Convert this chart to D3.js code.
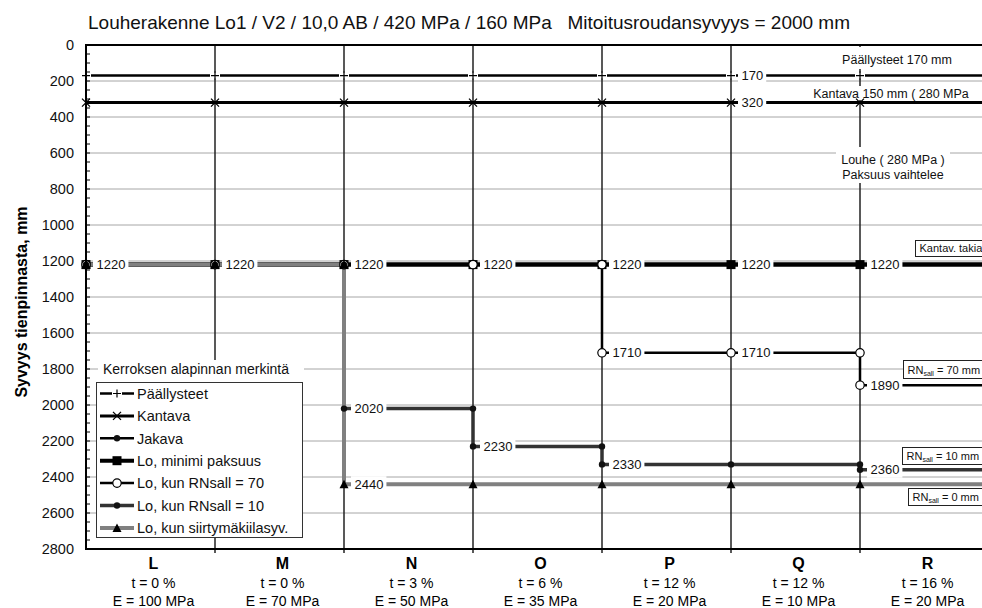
<!DOCTYPE html>
<html>
<head>
<meta charset="utf-8">
<script src="https://cdn.jsdelivr.net/npm/d3@7"></script>
<style>
  body { margin: 0; background: #fff; }
  svg { display: block; font-family: Arial, "Liberation Sans", sans-serif; }
</style>
</head>
<body>
<svg id="chart" width="982" height="608"></svg>
<script>
// categories (ground types) and their texts
var categories = ["L", "M", "N", "O", "P", "Q", "R"];
var tLabels = ["t = 0 %", "t = 0 %", "t = 3 %", "t = 6 %", "t = 12 %", "t = 12 %", "t = 16 %"];
var eLabels = ["E = 100 MPa", "E = 70 MPa", "E = 50 MPa", "E = 35 MPa", "E = 20 MPa", "E = 10 MPa", "E = 20 MPa"];
var yTicks = d3.range(0, 2801, 200);

// depth of the layer bottom, mm, per category
var paallysteet = [170, 170, 170, 170, 170, 170, 170];
var kantava = [320, 320, 320, 320, 320, 320, 320];
var jakava = [];  // no separate jakava layer in this structure
var loMin = [1220, 1220, 1220, 1220, 1220, 1220, 1220];
var loRN70 = [1220, 1220, 1220, 1220, 1710, 1710, 1890];
var loRN10 = [1220, 1220, 2020, 2230, 2330, 2330, 2360];
var loSiirtyma = [1220, 1220, 2440, 2440, 2440, 2440, 2440];

// categories that get a value label
var labelsPaal = [5];
var labelsKant = [5];
var labelsMin = [0, 1, 2, 3, 4, 5, 6];
var labelsRN70 = [4, 5, 6];
var labelsRN10 = [2, 3, 4, 6];
var labelsSiirt = [2];

var series = [
  {name: "Päällysteet", values: paallysteet, color: "#000", width: 2.5, marker: "plus", labels: labelsPaal},
  {name: "Kantava", values: kantava, color: "#000", width: 3, marker: "cross", labels: labelsKant},
  {name: "Jakava", values: jakava, color: "#000", width: 2.5, marker: "dot", labels: []},
  {name: "Lo, minimi paksuus", values: loMin, color: "#000", width: 4.5, marker: "square", labels: labelsMin},
  {name: "Lo, kun RNsall = 70", values: loRN70, color: "#000", width: 2.5, marker: "circle", labels: labelsRN70},
  {name: "Lo, kun RNsall = 10", values: loRN10, color: "#333", width: 3.5, marker: "dot", labels: labelsRN10},
  {name: "Lo, kun siirtymäkiilasyv.", values: loSiirtyma, color: "#808080", width: 4, marker: "triangle", labels: labelsSiirt}
];

var svg = d3.select("#chart");
var x = d3.scaleLinear().domain([0, 7]).range([86, 989]);
var y = d3.scaleLinear().domain([0, 2800]).range([45, 549]);

// grid
svg.append("g").selectAll("line").data(yTicks.filter(function(d){ return d > 0 && d < 2800; }))
  .enter().append("line")
  .attr("x1", x(0)).attr("x2", 982)
  .attr("y1", function(d){ return y(d); }).attr("y2", function(d){ return y(d); })
  .attr("stroke", "#a6a6a6").attr("stroke-width", 1);

// category boundary lines
svg.append("g").selectAll("line").data(d3.range(1, 7))
  .enter().append("line")
  .attr("x1", function(d){ return x(d); }).attr("x2", function(d){ return x(d); })
  .attr("y1", y(0)).attr("y2", y(2800) + 4)
  .attr("stroke", "#222").attr("stroke-width", 1.5);

// notes on the right with white background
function note(lines, cx, y0, size, box) {
  var g = svg.append("g");
  g.append("rect").attr("x", box[0]).attr("y", box[1]).attr("width", box[2]).attr("height", box[3]).attr("fill", "#fff");
  lines.forEach(function(t, i){
    g.append("text").attr("x", cx).attr("y", y0 + i * 14.5).attr("text-anchor", "middle")
      .attr("font-size", size).attr("fill", "#111").text(t);
  });
}
note(["Päällysteet 170 mm"], 897, 64, 12.5, [838, 47, 118, 22]);
note(["Kantava 150 mm ( 280 MPa"], 891, 98, 12.5, [810, 86, 165, 14]);
note(["Louhe ( 280 MPa )", "Paksuus vaihtelee"], 893, 164, 12.5, [836, 147, 114, 36]);

// series lines (step shape)
function stepPoints(v) {
  var pts = [[0, v[0]]];
  for (var i = 1; i < v.length; i++) {
    pts.push([i, v[i - 1]]);
    pts.push([i, v[i]]);
  }
  pts.push([v.length, v[v.length - 1]]);
  return pts;
}
function markerPoints(v) {
  var pts = [];
  for (var i = 0; i < v.length; i++) {
    if (i > 0 && v[i - 1] !== v[i]) pts.push([i, v[i - 1]]);
    pts.push([i, v[i]]);
  }
  return pts;
}
var line = d3.line().x(function(d){ return x(d[0]); }).y(function(d){ return y(d[1]); });

function drawMarker(g, type, px, py) {
  if (type === "plus") {
    g.append("rect").attr("x", px - 5).attr("y", py - 3).attr("width", 10).attr("height", 6).attr("fill", "#fff");
    g.append("path").attr("d", "M" + (px - 4) + "," + py + "H" + (px + 4) + "M" + px + "," + (py - 4) + "V" + (py + 4))
      .attr("stroke", "#000").attr("stroke-width", 1.2);
  } else if (type === "cross") {
    g.append("path").attr("d", "M" + (px - 4) + "," + (py - 4) + "L" + (px + 4) + "," + (py + 4) + "M" + (px - 4) + "," + (py + 4) + "L" + (px + 4) + "," + (py - 4))
      .attr("stroke", "#000").attr("stroke-width", 1.3);
  } else if (type === "square") {
    g.append("rect").attr("x", px - 4.5).attr("y", py - 4.5).attr("width", 9).attr("height", 9).attr("fill", "#000");
  } else if (type === "circle") {
    g.append("circle").attr("cx", px).attr("cy", py).attr("r", 4.2).attr("fill", "#fff").attr("stroke", "#000").attr("stroke-width", 1.2);
  } else if (type === "dot") {
    g.append("circle").attr("cx", px).attr("cy", py).attr("r", 3.2).attr("fill", "#111");
  } else if (type === "triangle") {
    g.append("path").attr("d", "M" + px + "," + (py - 4.5) + "L" + (px + 4.5) + "," + (py + 4) + "L" + (px - 4.5) + "," + (py + 4) + "Z")
      .attr("fill", "#000");
  }
}

// all lines first, then all markers on top
var lineG = svg.append("g");
var markG = svg.append("g");
series.forEach(function(s){
  if (!s.values.length) return;
  lineG.append("path").datum(stepPoints(s.values)).attr("d", line)
    .attr("fill", "none").attr("stroke", s.color).attr("stroke-width", s.width);
  markerPoints(s.values).forEach(function(p){ drawMarker(markG, s.marker, x(p[0]), y(p[1])); });
});

// value labels
var labelG = svg.append("g");
series.forEach(function(s){
  s.labels.forEach(function(i){
    var px = x(i), py = y(s.values[i]);
    var r = labelG.append("rect").attr("fill", "#fff");
    var t = labelG.append("text").attr("x", px + 10.5).attr("y", py).attr("dy", "0.36em")
      .attr("font-size", 13).attr("fill", "#111").text(s.values[i]);
    var w = t.node().getComputedTextLength();
    r.attr("x", px + 7).attr("y", py - 8).attr("width", w + 6.5).attr("height", 16);
  });
});

// boxed notes
function boxNote(bx, by, bw, bh, parts) {
  var g = svg.append("g");
  g.append("rect").attr("x", bx).attr("y", by).attr("width", bw).attr("height", bh)
    .attr("fill", "#fff").attr("stroke", "#222").attr("stroke-width", 1);
  var t = g.append("text").attr("x", bx + 4).attr("y", by + bh - 4.5).attr("font-size", 11).attr("fill", "#111");
  parts.forEach(function(p){
    var ts = t.append("tspan").text(p.t);
    if (p.sub) ts.attr("font-size", 7).attr("dy", 2);
    else if (p.back) ts.attr("dy", -2);
  });
}
boxNote(915.5, 240.5, 80, 16, [{t: "Kantav. takia"}]);
boxNote(903.5, 360.5, 90, 18, [{t: "RN"}, {t: "sall", sub: true}, {t: " = 70 mm", back: true}]);
boxNote(902.5, 447.5, 90, 17, [{t: "RN"}, {t: "sall", sub: true}, {t: " = 10 mm", back: true}]);
boxNote(908.5, 488.5, 90, 17, [{t: "RN"}, {t: "sall", sub: true}, {t: " = 0 mm", back: true}]);

// legend
var leg = svg.append("g");
leg.append("rect").attr("x", 98).attr("y", 360).attr("width", 206).attr("height", 22).attr("fill", "#fff");
leg.append("text").attr("x", 103).attr("y", 374).attr("font-size", 14).attr("fill", "#111").text("Kerroksen alapinnan merkintä");
leg.append("rect").attr("x", 96.5).attr("y", 382.5).attr("width", 206).attr("height", 155)
  .attr("fill", "#fff").attr("stroke", "#333").attr("stroke-width", 1);
series.forEach(function(s, k){
  var ly = 393.5 + k * 22.4;
  leg.append("line").attr("x1", 100).attr("x2", 134).attr("y1", ly).attr("y2", ly)
    .attr("stroke", s.color).attr("stroke-width", Math.min(s.width, 4));
  drawMarker(leg, s.marker, 117, ly);
  leg.append("text").attr("x", 137).attr("y", ly).attr("dy", "0.36em").attr("font-size", 14.5).attr("fill", "#111").text(s.name);
});

// axes
svg.append("line").attr("x1", x(0)).attr("x2", 982).attr("y1", y(0)).attr("y2", y(0)).attr("stroke", "#000").attr("stroke-width", 2);
svg.append("line").attr("x1", x(0)).attr("x2", 982).attr("y1", y(2800)).attr("y2", y(2800)).attr("stroke", "#000").attr("stroke-width", 2);
svg.append("line").attr("x1", x(0)).attr("x2", x(0)).attr("y1", y(0) - 1).attr("y2", y(2800) + 1).attr("stroke", "#000").attr("stroke-width", 2);

svg.append("g").selectAll("line").data(d3.range(0, 2801, 50))
  .enter().append("line")
  .attr("x1", x(0)).attr("x2", x(0) + 4)
  .attr("y1", function(d){ return y(d); }).attr("y2", function(d){ return y(d); })
  .attr("stroke", "#000").attr("stroke-width", 1);

svg.append("g").selectAll("text").data(yTicks)
  .enter().append("text")
  .attr("x", 74).attr("y", function(d){ return y(d); }).attr("dy", "0.36em")
  .attr("text-anchor", "end").attr("font-size", 14.5).attr("fill", "#111")
  .text(function(d){ return d; });

var catG = svg.append("g").selectAll("g").data(categories).enter().append("g")
  .attr("transform", function(d, i){ return "translate(" + (x(i + 0.5) + 3) + ",0)"; });
catG.append("text").attr("y", 569).attr("text-anchor", "middle").attr("font-size", 16).attr("font-weight", "bold").text(function(d){ return d; });
catG.append("text").attr("y", 588).attr("text-anchor", "middle").attr("font-size", 14).text(function(d, i){ return tLabels[i]; });
catG.append("text").attr("y", 606).attr("text-anchor", "middle").attr("font-size", 14).text(function(d, i){ return eLabels[i]; });

svg.append("text").attr("transform", "translate(27,302) rotate(-90)").attr("text-anchor", "middle")
  .attr("font-size", 16).attr("font-weight", "bold").text("Syvyys tienpinnasta, mm");

svg.append("text").attr("x", 88).attr("y", 29).attr("font-size", 19).attr("fill", "#111")
  .style("white-space", "pre")
  .text("Louherakenne Lo1 / V2 / 10,0 AB / 420 MPa / 160 MPa   Mitoitusroudansyvyys = 2000 mm");
</script>
</body>
</html>
